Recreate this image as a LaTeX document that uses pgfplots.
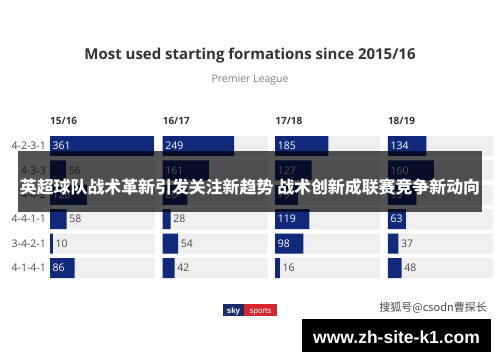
\documentclass[border=0pt]{standalone}
\usepackage{pgfplots}
\pgfplotsset{compat=1.18}
\usepackage{fontspec}
\setmainfont{Open Sans}
\newfontfamily\cjk{Noto Sans CJK SC}
\newfontfamily\arialf{Liberation Sans}
\definecolor{navy}{HTML}{10297A}
\definecolor{strip}{HTML}{EFEFEF}
\definecolor{lab}{HTML}{4A4A4A}
\definecolor{ttl}{HTML}{333333}
\definecolor{skyred}{HTML}{D8262E}
\definecolor{skyblue}{HTML}{1B2C6B}
\pgfplotsset{
  panel/.style={
    scale only axis, width=105pt, height=146.4pt,
    xmin=0, xmax=365, ymin=-0.5, ymax=5.5, y dir=reverse,
    axis line style={draw=none}, tick style={draw=none},
    xtick=\empty, ytick=\empty, clip=false,
    title style={anchor=base west, at={(0,1)}, yshift=3.8pt, inner sep=0pt,
      font=\bfseries\fontsize{10}{12}\selectfont, text=ttl},
  },
  stripbar/.style={xbar, bar width=20pt, fill=strip, draw=none},
  databar/.style={xbar, bar width=20pt, fill=navy, draw=none},
  inlab/.style={draw=none, mark=none, nodes near coords, point meta=explicit symbolic,
    nodes near coords style={anchor=west, font=\fontsize{10.5}{12}\selectfont, text=white, inner sep=2.5pt}},
  outlab/.style={draw=none, mark=none, nodes near coords, point meta=explicit symbolic,
    nodes near coords style={anchor=west, font=\fontsize{10.5}{12}\selectfont, text=lab, inner sep=2.5pt}},
}
\begin{document}
\begin{tikzpicture}[x=1pt,y=1pt]
\path[fill=white, use as bounding box] (0,0) rectangle (500,362);
\node[anchor=base, font=\bfseries\fontsize{15}{17}\selectfont, text=ttl] at (250,302.7) {Most used starting formations since 2015/16};
\node[anchor=base, font=\fontsize{10.5}{12}\selectfont, text=gray] at (250,279.3) {Premier League};

% 15/16
\begin{axis}[panel, at={(50pt,81.8pt)}, anchor=south west, title={15/16},
  ytick={0,1,2,3,4,5},
  yticklabels={4-2-3-1,4-3-3,4-4-2,4-4-1-1,3-4-2-1,4-1-4-1},
  yticklabel style={font=\fontsize{10.5}{12}\selectfont, text=lab, inner sep=1pt, xshift=-3pt}]
\addplot[stripbar] coordinates {(365,0) (365,1) (365,2) (365,3) (365,4) (365,5)};
\addplot[databar] coordinates {(361,0) (56,1) (128,2) (58,3) (10,4) (86,5)};
\addplot[inlab] coordinates {(0,0) [361] (0,2) [128] (0,5) [86]};
\addplot[outlab] coordinates {(56,1) [56] (58,3) [58] (10,4) [10]};
\end{axis}
% 16/17
\begin{axis}[panel, at={(162.6pt,81.8pt)}, anchor=south west, title={16/17}]
\addplot[stripbar] coordinates {(365,0) (365,1) (365,2) (365,3) (365,4) (365,5)};
\addplot[databar] coordinates {(249,0) (161,1) (86,2) (28,3) (54,4) (42,5)};
\addplot[inlab] coordinates {(0,0) [249] (0,1) [161] (0,2) [86]};
\addplot[outlab] coordinates {(28,3) [28] (54,4) [54] (42,5) [42]};
\end{axis}
% 17/18
\begin{axis}[panel, at={(275.2pt,81.8pt)}, anchor=south west, title={17/18}]
\addplot[stripbar] coordinates {(365,0) (365,1) (365,2) (365,3) (365,4) (365,5)};
\addplot[databar] coordinates {(185,0) (127,1) (79,2) (119,3) (98,4) (16,5)};
\addplot[inlab] coordinates {(0,0) [185] (0,1) [127] (0,2) [79] (0,3) [119] (0,4) [98]};
\addplot[outlab] coordinates {(16,5) [16]};
\end{axis}
% 18/19
\begin{axis}[panel, at={(387.8pt,81.8pt)}, anchor=south west, title={18/19}]
\addplot[stripbar] coordinates {(365,0) (365,1) (365,2) (365,3) (365,4) (365,5)};
\addplot[databar] coordinates {(134,0) (160,1) (99,2) (63,3) (37,4) (48,5)};
\addplot[inlab] coordinates {(0,0) [134] (0,1) [160] (0,2) [99] (0,3) [63]};
\addplot[outlab] coordinates {(37,4) [37] (48,5) [48]};
\end{axis}

% overlay banner
\fill[black, fill opacity=0.67] (18,150) rectangle (482,211);
\node[anchor=base, font=\cjk\bfseries\fontsize{16.9}{18}\selectfont, text=white, inner sep=0pt] at (250,169) {英超球队战术革新引发关注新趋势 战术创新成联赛竞争新动向};

% sky sports logo
\fill[skyblue] (223,46) rectangle (244,58);
\fill[skyred] (244,46) rectangle (277,58);
\node[anchor=base, font=\arialf\bfseries\fontsize{8}{9}\selectfont, text=white, inner sep=0pt] at (233.5,49) {sky};
\node[anchor=base, font=\arialf\fontsize{8}{9}\selectfont, text=white, inner sep=0pt] at (260.5,49) {sports};

% watermark
\node[anchor=base east, font=\cjk\fontsize{11}{12}\selectfont, text=lab, inner sep=0pt] at (487,51) {搜狐号@csodn曹探长};
\fill[black] (302,10) rectangle (491,43);
\node[anchor=base, font=\arialf\bfseries\fontsize{17.5}{20}\selectfont, text=white, inner sep=0pt] at (396.5,19) {www.zh-site-k1.com};
\end{tikzpicture}
\end{document}
